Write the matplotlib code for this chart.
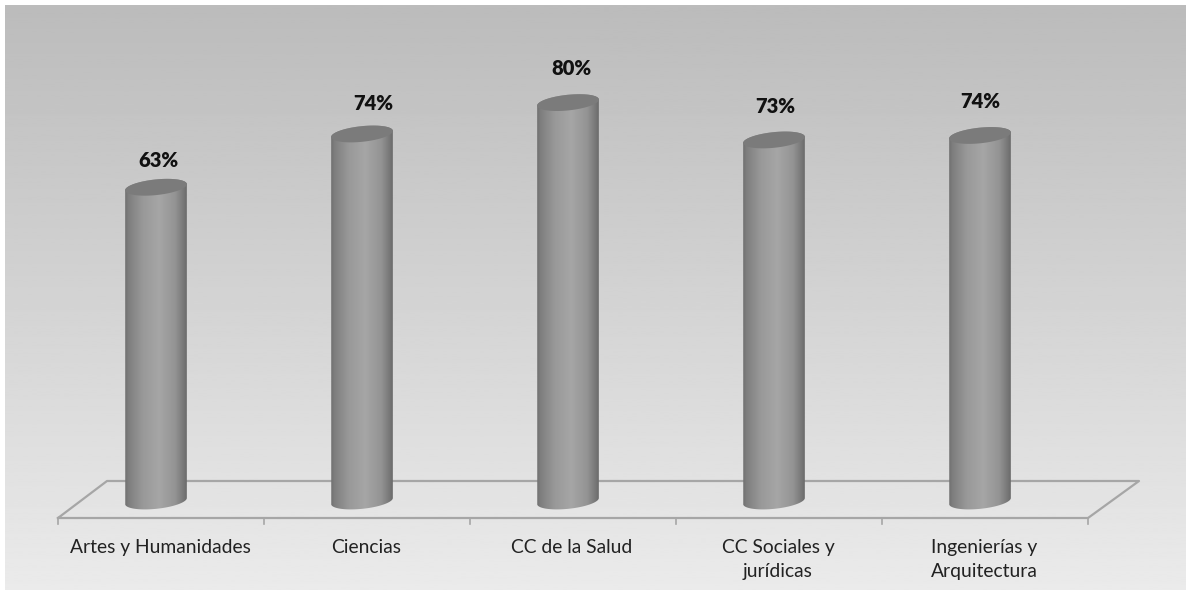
import numpy as np
import matplotlib
matplotlib.use("Agg")
import matplotlib.pyplot as plt
from matplotlib.patches import PathPatch, Polygon
from matplotlib.path import Path

categories = ["Artes y Humanidades", "Ciencias", "CC de la Salud",
              "CC Sociales y\njurídicas", "Ingenierías y\nArquitectura"]
values = [63, 73.7, 80, 72.5, 73.4]
labels = ["63%", "74%", "80%", "73%", "74%"]

W, H = 1190, 595
px_x = 206.0   # pixels per category
px_y = 4.98    # pixels per percentage point
x0, y0 = 156.0, 501.0   # where category 0 / value 0 sit

# the percent labels do not sit at a fixed distance from the bars
label_dx = [2, 11, 3, 1, 0]
label_dy = [27, 30, 34, 33, 34]

plt.rcParams["font.family"] = ["Lato", "DejaVu Sans"]

fig = plt.figure(figsize=(W / 100, H / 100), dpi=100, facecolor="white")
ax = fig.add_axes([0, 0, 1, 1])
ax.set_xlim(-x0 / px_x, (W - x0) / px_x)
ax.set_ylim((y0 - H) / px_y, y0 / px_y)
ax.axis("off")
xl, yl = ax.get_xlim(), ax.get_ylim()


def dx(p):
    return p / px_x


def dy(p):
    return p / px_y


# background, light grey fading down from the top
bg = np.linspace(0.735, 0.92, 256).reshape(-1, 1)
ax.imshow(bg, cmap="gray", vmin=0, vmax=1, aspect="auto", zorder=0,
          extent=[xl[0] + dx(5), xl[1] - dx(5), yl[0] + dy(5), yl[1] - dy(5)])

# floor of the 3d chart
n = len(categories)
front = -dy(17)
back = dy(20)
left, right = -0.5 + dx(5), n - 0.5 + dx(5)
line = "#a6a6a6"
ax.plot([left, left + dx(49), right + dx(51), right, left],
        [front, back, back, front, front], color=line, lw=1.6, zorder=1)
for i in range(n + 1):
    xt = i - 0.5 + dx(5)
    ax.plot([xt, xt], [front, front - dy(6)], color=line, lw=1.2, zorder=1)

# cylinders
half_w, half_h, tilt = 31.0, 7.8, np.radians(6)
t = np.linspace(0, 2 * np.pi, 121)
ex = half_w * np.cos(t) * np.cos(tilt) - half_h * np.sin(t) * np.sin(tilt)
ey = half_w * np.cos(t) * np.sin(tilt) + half_h * np.sin(t) * np.cos(tilt)
upper = t <= np.pi
lower = ~upper
shade = np.interp(np.linspace(0, 1, 256),
                  [0, 0.08, 0.3, 0.55, 0.8, 0.93, 1],
                  [0.43, 0.50, 0.60, 0.65, 0.58, 0.47, 0.40]).reshape(1, -1)

for i, v in enumerate(values):
    # outline: lower half of the bottom ellipse, upper half of the top one
    bx = np.r_[i + dx(ex[lower]), i + dx(ex[upper])]
    by = np.r_[dy(ey[lower]), v + dy(ey[upper])]
    clip = PathPatch(Path(np.c_[bx, by]), transform=ax.transData,
                     fc="none", ec="none")
    ax.add_patch(clip)
    im = ax.imshow(shade, cmap="gray", vmin=0, vmax=1, aspect="auto", zorder=3,
                   interpolation="bilinear",
                   extent=[i - dx(half_w + 1), i + dx(half_w + 1), -dy(20), v + dy(20)])
    im.set_clip_path(clip)
    ax.add_patch(Polygon(np.c_[i + dx(ex), v + dy(ey)], closed=True,
                         fc="#7b7b7b", ec="none", zorder=4))
    ax.text(i + dx(label_dx[i]), v + dy(label_dy[i]), labels[i], ha="center", va="center",
            fontsize=14.5, fontweight="heavy", color="#111111", zorder=5)
    ax.text(i + dx(4), front - dy(21), categories[i], ha="center", va="top",
            fontsize=13.9, color="#222222", linespacing=1.5, zorder=5)

ax.set_xlim(xl)
ax.set_ylim(yl)
fig.savefig("out.png", dpi=100)
